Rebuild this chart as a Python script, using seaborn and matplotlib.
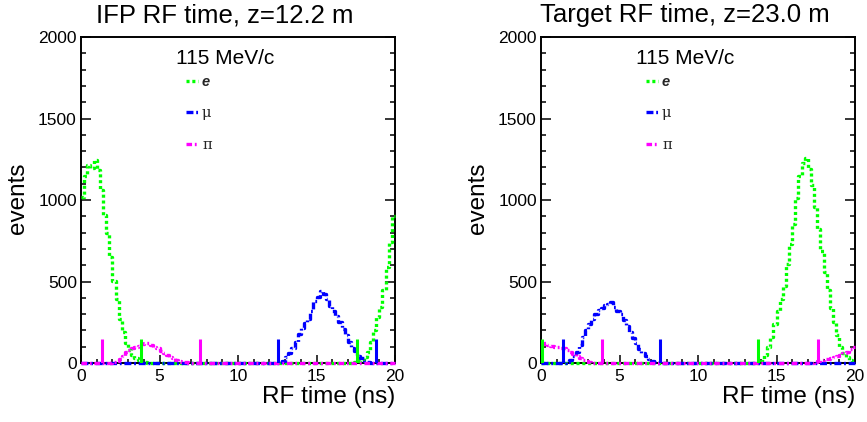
import numpy as np
import pandas as pd
import matplotlib
matplotlib.use("Agg")
import matplotlib.pyplot as plt
from matplotlib.lines import Line2D
from matplotlib.ticker import MultipleLocator
import seaborn as sns

# ---------------- data (0.2 ns bins, 0..20 ns) ----------------
BIN_EDGES = np.linspace(0, 20, 101)

LEFT_E = [1020, 1150, 1215, 1195, 1245, 1185, 1060, 905, 795, 650,
          505, 395, 270, 190, 120, 80, 52, 30, 16, 9,
          4, 2, 1, 0, 0, 0, 0, 0, 0, 0,
          0, 0, 0, 0, 0, 0, 0, 0, 0, 0,
          0, 0, 0, 0, 0, 0, 0, 0, 0, 0,
          0, 0, 0, 0, 0, 0, 0, 0, 0, 0,
          0, 0, 0, 0, 0, 0, 0, 0, 0, 0,
          0, 0, 0, 0, 0, 0, 0, 0, 0, 0,
          0, 0, 0, 0, 0, 0, 2, 5, 10, 20,
          35, 65, 130, 205, 285, 345, 450, 590, 740, 900]
LEFT_MU = [0, 0, 0, 0, 0, 0, 0, 0, 0, 0,
           0, 0, 0, 0, 0, 0, 0, 0, 0, 0,
           0, 0, 0, 0, 0, 0, 0, 0, 0, 0,
           0, 0, 0, 0, 0, 0, 0, 0, 0, 0,
           0, 0, 0, 0, 0, 0, 0, 0, 0, 0,
           0, 0, 0, 0, 0, 0, 0, 0, 0, 0,
           0, 0, 0, 5, 15, 35, 60, 90, 130, 180,
           215, 245, 270, 320, 380, 405, 440, 425, 390, 350,
           320, 290, 250, 210, 170, 130, 95, 75, 45, 30,
           15, 6, 2, 0, 0, 0, 0, 0, 0, 0]
LEFT_PI = [2, 0, 0, 0, 0, 0, 0, 0, 0, 3,
           8, 15, 25, 45, 65, 80, 95, 100, 105, 115,
           125, 120, 110, 100, 90, 75, 60, 50, 38, 30,
           20, 12, 8, 4, 2, 0, 0, 0, 0, 0,
           0, 0, 0, 0, 0, 0, 0, 0, 0, 0,
           0, 0, 0, 0, 0, 0, 0, 0, 0, 0,
           0, 0, 0, 0, 0, 0, 0, 0, 0, 0,
           0, 0, 0, 0, 0, 0, 0, 0, 0, 0,
           0, 0, 0, 0, 0, 0, 0, 0, 0, 0,
           0, 0, 0, 0, 0, 0, 0, 0, 0, 0]

RIGHT_E = [0, 0, 0, 0, 0, 0, 0, 0, 0, 0,
           0, 0, 0, 0, 0, 0, 0, 0, 0, 0,
           0, 0, 0, 0, 0, 0, 0, 0, 0, 0,
           0, 0, 0, 0, 0, 0, 0, 0, 0, 0,
           0, 0, 0, 0, 0, 0, 0, 0, 0, 0,
           0, 0, 0, 0, 0, 0, 0, 0, 0, 0,
           0, 0, 0, 0, 0, 0, 0, 0, 0, 0,
           15, 50, 100, 160, 240, 320, 390, 470, 610, 730,
           850, 1010, 1150, 1230, 1260, 1190, 1090, 960, 820, 690,
           560, 450, 340, 250, 170, 100, 60, 35, 18, 8]
RIGHT_MU = [0, 0, 0, 0, 0, 0, 0, 3, 8, 18,
            40, 65, 110, 160, 200, 240, 270, 300, 325, 340,
            355, 365, 372, 345, 320, 300, 265, 230, 190, 155,
            120, 85, 60, 40, 25, 12, 5, 2, 0, 0,
            0, 0, 0, 0, 0, 0, 0, 0, 0, 0,
            0, 0, 0, 0, 0, 0, 0, 0, 0, 0,
            0, 0, 0, 0, 0, 0, 0, 0, 0, 0,
            0, 0, 0, 0, 0, 0, 0, 0, 0, 0,
            0, 0, 0, 0, 0, 0, 0, 0, 0, 0,
            0, 0, 0, 0, 0, 0, 0, 0, 0, 0]
RIGHT_PI = [115, 120, 110, 105, 100, 100, 95, 90, 80, 70,
            55, 40, 30, 20, 12, 6, 3, 1, 0, 0,
            0, 0, 0, 0, 0, 0, 0, 0, 0, 0,
            0, 0, 0, 0, 0, 0, 0, 0, 0, 0,
            0, 0, 0, 0, 0, 0, 0, 0, 0, 0,
            0, 0, 0, 0, 0, 0, 0, 0, 0, 0,
            0, 0, 0, 0, 0, 0, 0, 0, 0, 0,
            0, 0, 0, 0, 0, 0, 0, 0, 0, 0,
            0, 0, 0, 0, 0, 0, 0, 5, 10, 18,
            22, 25, 30, 35, 40, 50, 60, 70, 85, 100]

# timing window markers (ns)
LEFT_MARK_E = [3.80, 17.56]
LEFT_MARK_MU = [12.57, 18.79]
LEFT_MARK_PI = [1.32, 7.58]
RIGHT_MARK_E = [0.08, 13.84]
RIGHT_MARK_MU = [1.38, 7.60]
RIGHT_MARK_PI = [3.87, 17.65]
MARK_HEIGHT = 145

TITLES = ["IFP RF time, z=12.2 m", "Target RF time, z=23.0 m"]
HEADER = "115 MeV/c"
LABELS = ["e", "\u03bc", "\u03c0"]
XLABEL = "RF time (ns)"
YLABEL = "events"

# ---------------- style ----------------
sns.set_theme(style="ticks")
plt.rcParams['font.family'] = ['Liberation Sans', 'DejaVu Sans']
plt.rcParams['lines.scale_dashes'] = False

GREEN, BLUE, MAGENTA = "#00ff00", "#0000ff", "#ff00ff"
STY_E = (0, (2.2, 2.0))
STY_MU = (0, (5.0, 2.0, 1.3, 2.0))
STY_PI = (0, (4.0, 2.0, 1.3, 2.0))
LW = 2.4

W, H = 867, 422
fig = plt.figure(figsize=(W / 100, H / 100), dpi=100)
fig.patch.set_facecolor("white")

panels = [
    dict(left=81, e=LEFT_E, mu=LEFT_MU, pi=LEFT_PI,
         me=LEFT_MARK_E, mm=LEFT_MARK_MU, mp=LEFT_MARK_PI),
    dict(left=541, e=RIGHT_E, mu=RIGHT_MU, pi=RIGHT_PI,
         me=RIGHT_MARK_E, mm=RIGHT_MARK_MU, mp=RIGHT_MARK_PI),
]
centers = BIN_EDGES[:-1] + 0.1
ax_w, ax_top, ax_bot = 314, 37, 363

for i, p in enumerate(panels):
    ax = fig.add_axes([p["left"] / W, 1 - ax_bot / H, ax_w / W, (ax_bot - ax_top) / H])
    ax.set_facecolor("white")
    for vals, col, sty in [(p["e"], GREEN, STY_E), (p["mu"], BLUE, STY_MU), (p["pi"], MAGENTA, STY_PI)]:
        df = pd.DataFrame({"t": centers, "w": np.asarray(vals, dtype=float)})
        sns.histplot(data=df, x="t", weights="w", bins=list(BIN_EDGES), element="step", fill=False,
                     color=col, linestyle=sty, linewidth=LW, clip_on=False, zorder=3, ax=ax)
    ax.vlines(p["me"], 0, MARK_HEIGHT, colors=GREEN, linewidth=2.2, zorder=4)
    ax.vlines(p["mm"], 0, MARK_HEIGHT, colors=BLUE, linewidth=2.2, zorder=4)
    ax.vlines(p["mp"], 0, MARK_HEIGHT, colors=MAGENTA, linewidth=2.2, zorder=4)

    ax.set_xlim(0, 20)
    ax.set_ylim(0, 2000)
    ax.set_xlabel("")
    ax.set_ylabel("")
    ax.xaxis.set_major_locator(MultipleLocator(5))
    ax.xaxis.set_minor_locator(MultipleLocator(1))
    ax.yaxis.set_major_locator(MultipleLocator(500))
    ax.yaxis.set_minor_locator(MultipleLocator(100))
    ax.tick_params(axis="both", which="both", direction="in", colors="black",
                   labelsize=12.5, width=1.1)
    ax.tick_params(axis="x", which="major", length=6, pad=4, bottom=True, top=False)
    ax.tick_params(axis="x", which="minor", length=3, bottom=True, top=False)
    ax.tick_params(axis="y", which="major", length=7, pad=3, left=True, right=True)
    ax.tick_params(axis="y", which="minor", length=3.5, left=True, right=True)
    for s in ax.spines.values():
        s.set_visible(True)
        s.set_color("black")
        s.set_linewidth(1.4)
        s.set_zorder(2.5)
    ax.grid(False)

    x0 = p["left"]
    fig.text((x0 + 144) / W, 1 - 15 / H, TITLES[i], ha="center", va="center",
             fontsize=18.5, color="black")
    fig.text((x0 + ax_w) / W, 1 - 397 / H, XLABEL, ha="right", va="center",
             fontsize=17.5, color="black")
    fig.text((x0 - 63) / W, 1 - 198 / H, YLABEL, ha="center", va="center",
             rotation=90, fontsize=17.5, color="black")
    fig.text((x0 + 144) / W, 1 - 59 / H, HEADER, ha="center", va="center",
             fontsize=15, color="black")
    handles = [Line2D([], [], color=GREEN, linestyle=STY_E, linewidth=LW),
               Line2D([], [], color=BLUE, linestyle=STY_MU, linewidth=LW),
               Line2D([], [], color=MAGENTA, linestyle=STY_PI, linewidth=LW)]
    leg = ax.legend(handles, LABELS, loc="upper left",
                    bbox_to_anchor=((x0 + 105) / W, 1 - 75 / H),
                    bbox_transform=fig.transFigure, frameon=False,
                    fontsize=10.5, handlelength=0.8, handletextpad=0.3,
                    labelspacing=1.2, borderpad=0, borderaxespad=0)
    t0 = leg.get_texts()[0]
    t0.set_fontweight("bold")
    t0.set_fontstyle("italic")
    for t in leg.get_texts()[1:]:
        t.set_fontfamily(["DejaVu Serif"])

fig.savefig("out.png", dpi=100, facecolor="white")
